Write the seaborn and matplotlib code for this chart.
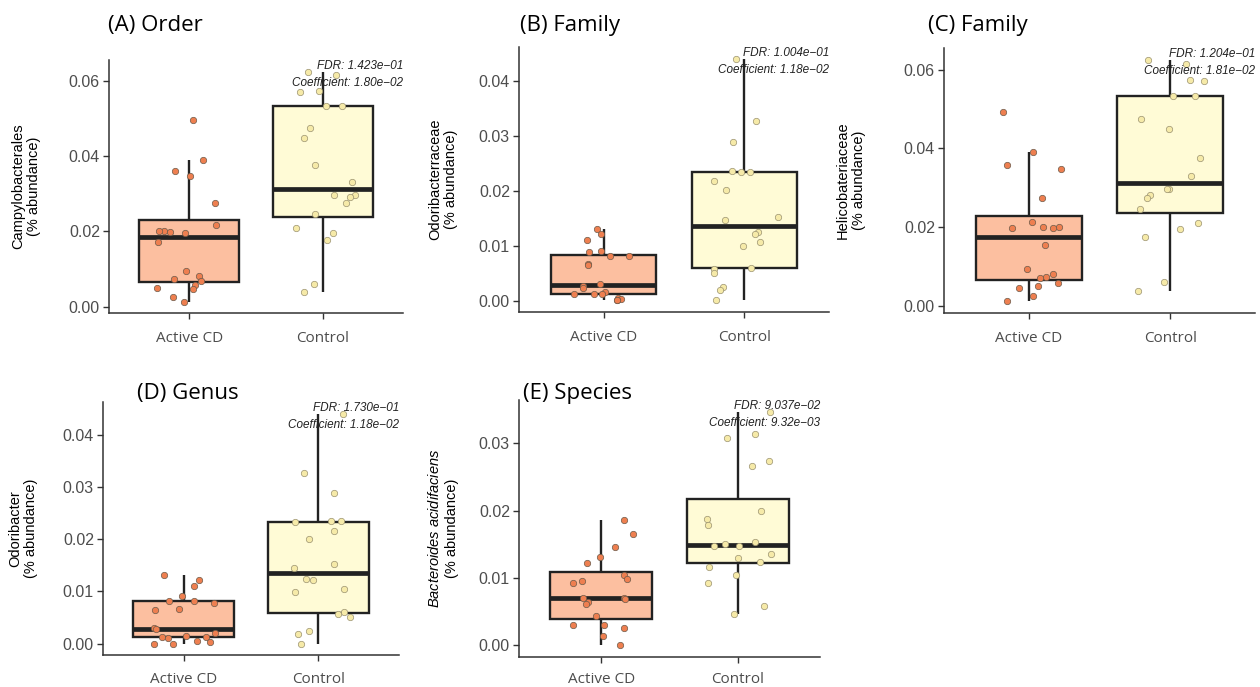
import numpy as np
import pandas as pd
import matplotlib
matplotlib.use("Agg")
import matplotlib.pyplot as plt
import seaborn as sns

# values (relative abundance, one point per sample)
A_active = [0.0495, 0.0391, 0.0360, 0.0348, 0.0275, 0.0216, 0.0201, 0.0198, 0.0201, 0.0197,
            0.0172, 0.0094, 0.0082, 0.0074, 0.0069, 0.0058, 0.0050, 0.0046, 0.0026, 0.0014]
A_control = [0.0625, 0.0615, 0.0574, 0.0571, 0.0533, 0.0533, 0.0475, 0.0449, 0.0376, 0.0331,
             0.0296, 0.0296, 0.0292, 0.0275, 0.0247, 0.0210, 0.0197, 0.0177, 0.0060, 0.0039]

B_active = [0.0131, 0.0122, 0.0111, 0.0088, 0.0091, 0.0082, 0.0082, 0.0067, 0.0064, 0.0030,
            0.0027, 0.0023, 0.0016, 0.0012, 0.0012, 0.0012, 0.0005, 0.0003, 0.0001, 0.0001]
B_control = [0.0440, 0.0328, 0.0289, 0.0234, 0.0236, 0.0235, 0.0217, 0.0201, 0.0152, 0.0146,
             0.0124, 0.0122, 0.0106, 0.0100, 0.0059, 0.0057, 0.0051, 0.0024, 0.0019, 0.0001]

C_active = [0.0493, 0.0390, 0.0358, 0.0348, 0.0274, 0.0214, 0.0201, 0.0197, 0.0200, 0.0198,
            0.0154, 0.0093, 0.0082, 0.0074, 0.0070, 0.0058, 0.0050, 0.0046, 0.0025, 0.0013]
C_control = [0.0624, 0.0613, 0.0574, 0.0571, 0.0532, 0.0532, 0.0474, 0.0449, 0.0375, 0.0330,
             0.0296, 0.0296, 0.0282, 0.0275, 0.0246, 0.0210, 0.0196, 0.0176, 0.0060, 0.0038]

D_active = [0.0131, 0.0122, 0.0110, 0.0091, 0.0081, 0.0081, 0.0077, 0.0066, 0.0064, 0.0030,
            0.0027, 0.0021, 0.0014, 0.0012, 0.0012, 0.0011, 0.0004, 0.0002, 0.0000, 0.0000]
D_control = [0.0442, 0.0328, 0.0289, 0.0234, 0.0236, 0.0235, 0.0217, 0.0201, 0.0152, 0.0146,
             0.0124, 0.0122, 0.0105, 0.0099, 0.0060, 0.0057, 0.0050, 0.0024, 0.0019, 0.0000]

E_active = [0.0186, 0.0166, 0.0146, 0.0131, 0.0122, 0.0105, 0.0098, 0.0092, 0.0095, 0.0070,
            0.0069, 0.0064, 0.0062, 0.0043, 0.0030, 0.0030, 0.0025, 0.0014, 0.0000, 0.0070]
E_control = [0.0347, 0.0314, 0.0308, 0.0274, 0.0267, 0.0200, 0.0187, 0.0179, 0.0153, 0.0150,
             0.0147, 0.0148, 0.0135, 0.0129, 0.0124, 0.0116, 0.0105, 0.0092, 0.0059, 0.0047]

groups = ["Active CD", "Control"]
titles = ["(A) Order", "(B) Family", "(C) Family", "(D) Genus", "(E) Species"]
ylabels = ["Campylobacterales", "Odoribacterraceae", "Helicobateriaceae", "Odoribacter",
           r"$\it{Bacteroides\ acidifaciens}$"]
fdr = ["1.423e\u221201", "1.004e\u221201", "1.204e\u221201", "1.730e\u221201", "9.037e\u221202"]
coef = ["1.80e\u221202", "1.18e\u221202", "1.81e\u221202", "1.18e\u221202", "9.32e\u221203"]
ytick_step = [0.02, 0.01, 0.02, 0.01, 0.01]

panels = [(A_active, A_control), (B_active, B_control), (C_active, C_control),
          (D_active, D_control), (E_active, E_control)]

box_colors = {"Active CD": "#FCBFA0", "Control": "#FFFBD6"}
pt_colors = {"Active CD": "#EE7F50", "Control": "#F6EAA8"}
pt_edges = {"Active CD": "#6b5a4a", "Control": "#9a9270"}

sns.set_theme(style="ticks")
plt.rcParams["font.family"] = ["Liberation Sans", "DejaVu Sans"]
plt.rcParams["mathtext.fontset"] = "custom"
plt.rcParams["mathtext.it"] = "Liberation Sans:italic"
plt.rcParams["mathtext.rm"] = "Liberation Sans"

W, H = 1260, 687
fig = plt.figure(figsize=(W / 100, H / 100), dpi=100)

# axes boxes in pixels: left, top, right, bottom
boxes = [(109, 60, 403, 313), (519, 47, 829, 312), (944, 48, 1255, 313),
         (103, 402, 399, 655), (519, 400, 820, 657)]
title_xy = [(108, 25), (520, 25), (928, 25), (137, 393), (523, 393)]
ylabel_x = [26, 443, 851, 23, 443]
xlab_pad = [8.5, 8.5, 8.5, 7.5, 6.5]

np.random.seed(3)
for i, (act, ctl) in enumerate(panels):
    l, t, r, b = boxes[i]
    ax = fig.add_axes([l / W, 1 - b / H, (r - l) / W, (b - t) / H])
    df = pd.DataFrame({"group": ["Active CD"] * len(act) + ["Control"] * len(ctl),
                       "value": list(act) + list(ctl)})
    sns.boxplot(data=df, x="group", y="value", hue="group", order=groups, hue_order=groups,
                palette=box_colors, saturation=1, showfliers=False, showcaps=False, width=0.75,
                linewidth=1.7, linecolor="#222222", medianprops=dict(linewidth=3.4),
                legend=False, ax=ax)
    for grp in groups:
        sub = df[df["group"] == grp]
        sns.stripplot(data=sub, x="group", y="value", order=groups, color=pt_colors[grp],
                      jitter=0.25, size=4.6, linewidth=0.5, edgecolor=pt_edges[grp],
                      ax=ax, zorder=3)

    vmin, vmax = df["value"].min(), df["value"].max()
    pad = (vmax - vmin) * 0.05
    ax.set_ylim(vmin - pad, vmax + pad)
    ax.set_xlim(-0.6, 1.6)
    step = ytick_step[i]
    ax.set_yticks(np.arange(0, vmax + 1e-9, step))
    ax.yaxis.set_major_formatter(matplotlib.ticker.FormatStrFormatter("%.2f"))
    ax.set_xlabel("")
    ax.set_ylabel(ylabels[i] + "\n(% abundance)", fontsize=10.5, color="black")
    ax.yaxis.label.set_va("center")
    ax.yaxis.set_label_coords((ylabel_x[i] - l) / (r - l), 0.5)
    ax.tick_params(axis="y", length=4.5, width=1, pad=2, color="#333333",
                   labelcolor="#4D4D4D", labelsize=11.5)
    ax.tick_params(axis="x", length=4.5, width=1, pad=xlab_pad[i], color="#333333",
                   labelcolor="#4D4D4D", labelsize=11)
    for lab in ax.get_xticklabels():
        lab.set_fontfamily(["Open Sans", "DejaVu Sans"])
    for s in ["top", "right"]:
        ax.spines[s].set_visible(False)
    for s in ["left", "bottom"]:
        ax.spines[s].set_color("#333333")
        ax.spines[s].set_linewidth(1.1)

    ax.text(1.0, 1.0, f"FDR: {fdr[i]}\nCoefficient: {coef[i]}", transform=ax.transAxes,
            ha="right", va="top", multialignment="right", fontsize=8.5, style="italic",
            color="#222222", linespacing=1.55, zorder=5)

    tx, ty = title_xy[i]
    fig.text(tx / W, 1 - ty / H, titles[i], ha="left", va="center", fontsize=16,
             family=["Open Sans", "DejaVu Sans"], color="black")

fig.savefig("out.png", dpi=100)
